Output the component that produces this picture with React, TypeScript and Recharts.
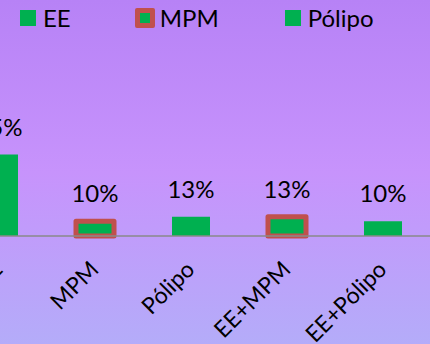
import { BarChart, Bar, XAxis, YAxis, Cell, LabelList } from "recharts";

// lesion groups and their share of cases (%)
const categories = ["EE", "MPM", "Pólipo", "EE+MPM", "EE+Pólipo"];
const shares = [55, 10, 13, 13, 10];
// the single lesion types shown in the key
const legendKeys = ["EE", "MPM", "Pólipo"];

const GREEN = "#00b050";
const RED = "#c0504d";
const FONT = "Lato, 'Noto Sans', sans-serif";
const TEXT_SIZE = 24;

const data = categories.map((name, i) => ({ name, share: shares[i] }));

// groups that include MPM get the red outline
const outlined = (name: string) => name.includes("MPM");

function Tick(props: any) {
  const { x, y, payload } = props;
  const ax = x + 5;
  const ay = y + 35;
  return (
    <text
      x={ax}
      y={ay}
      transform={`rotate(-45, ${ax}, ${ay})`}
      textAnchor="end"
      fontFamily={FONT}
      fontSize={TEXT_SIZE - 1}
      fill="#000"
    >
      {payload.value}
    </text>
  );
}

function ValueLabel(props: any) {
  const { x, y, width, value } = props;
  return (
    <text x={x + width / 2} y={y - 19} textAnchor="middle" fontFamily={FONT} fontSize={TEXT_SIZE} fill="#000">
      {value}%
    </text>
  );
}

function Legend() {
  return (
    <div
      style={{
        position: "absolute",
        left: 20,
        top: 5,
        display: "flex",
        alignItems: "center",
        gap: 66,
        whiteSpace: "nowrap",
        fontFamily: FONT,
        fontSize: TEXT_SIZE,
        color: "#000",
      }}
    >
      {legendKeys.map((name) => (
        <div key={name} style={{ display: "flex", alignItems: "center", gap: outlined(name) ? 5 : 7 }}>
          <span
            style={{
              display: "inline-block",
              width: outlined(name) ? 10 : 16,
              height: outlined(name) ? 10 : 16,
              background: GREEN,
              border: outlined(name) ? `5px solid ${RED}` : "none",
              borderRadius: outlined(name) ? 2 : 0,
              margin: outlined(name) ? "0 0 0 -2px" : 0,
            }}
          />
          <span style={{ lineHeight: "26px" }}>{name}</span>
        </div>
      ))}
    </div>
  );
}

export default function App() {
  return (
    <div
      style={{
        position: "relative",
        width: 430,
        height: 344,
        overflow: "hidden",
        background: "linear-gradient(to bottom, #b782f6 0%, #c793fc 50%, #b4acf9 100%)",
      }}
    >
      <style>{`body { margin: 0; }`}</style>
      <Legend />
      <div style={{ position: "absolute", left: -49, top: 0 }}>
        <BarChart width={480} height={344} data={data} margin={{ top: 88, right: 0, bottom: 78, left: 0 }}>
          <YAxis hide domain={[0, 100]} />
          <XAxis
            dataKey="name"
            height={30}
            interval={0}
            tickSize={0}
            tickMargin={0}
            tickLine={false}
            axisLine={{ stroke: "#8a8a8a", strokeWidth: 1.5 }}
            tick={<Tick />}
          />
          <Bar dataKey="share" barSize={38} isAnimationActive={false}>
            {data.map((d) => (
              <Cell
                key={d.name}
                fill={GREEN}
                stroke={outlined(d.name) ? RED : "none"}
                strokeWidth={outlined(d.name) ? 5 : 0}
                strokeLinejoin="round"
              />
            ))}
            <LabelList dataKey="share" content={<ValueLabel />} />
          </Bar>
        </BarChart>
      </div>
    </div>
  );
}
